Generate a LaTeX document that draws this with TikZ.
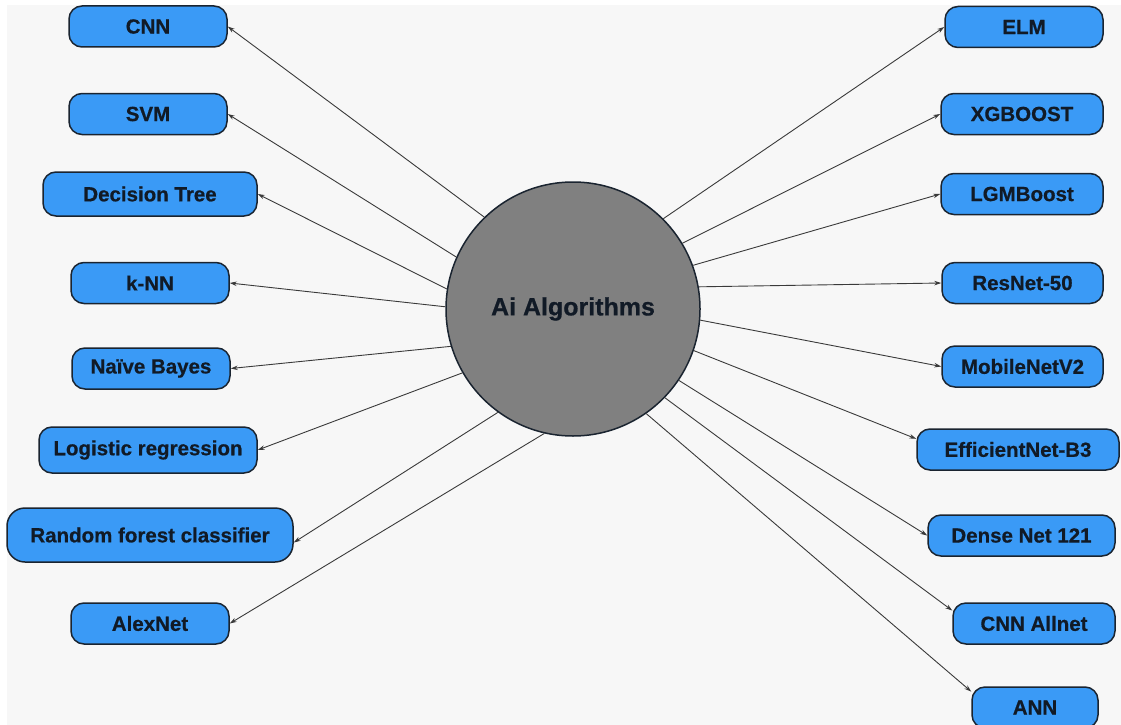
\documentclass[tikz,border=0pt]{standalone}
\usepackage{fontspec}
\setmainfont{Liberation Sans}[BoldFeatures={FakeBold=0.6}]
\usetikzlibrary{arrows.meta}
\definecolor{bg}{HTML}{F7F7F7}
\definecolor{boxblue}{HTML}{3A9AF6}
\definecolor{boxline}{HTML}{1A2430}
\definecolor{txt}{HTML}{111A26}
\definecolor{hubgray}{HTML}{808080}
\definecolor{arrcol}{HTML}{3A3A3A}
\tikzset{
  algobox/.style={draw=boxline, line width=1.5pt, fill=boxblue, rounded corners=13pt,
    minimum height=41pt, inner sep=0pt, text=txt,
    font=\fontsize{20.5}{23}\selectfont\bfseries},
  hub/.style={circle, draw=boxline, line width=1.5pt, fill=hubgray, minimum size=254pt,
    inner sep=0pt, text=txt, font=\fontsize{25}{28}\selectfont\bfseries},
  arr/.style={draw=arrcol, line width=0.9pt, -{Stealth[length=7pt,width=4.5pt]}}
}
\begin{document}
\begin{tikzpicture}[x=1pt,y=-1pt]
\useasboundingbox (0,0) rectangle (1121,725);
\fill[white] (0,0) rectangle (1121,725);
\fill[bg] (7,5) rectangle (1121,725);

\node[hub] (c) at (573,309) {\raisebox{-3pt}{Ai Algorithms}};

% left column
\node[algobox, minimum width=158pt] (cnn) at (148,26.5) {CNN};
\node[algobox, minimum width=158pt] (svm) at (148,114) {SVM};
\node[algobox, minimum width=214pt, minimum height=44pt] (dt) at (150,194) {Decision Tree};
\node[algobox, minimum width=158pt] (knn) at (150,283) {k-NN};
\node[algobox, minimum width=158pt] (nb) at (151,368.5) {Naïve Bayes};
\node[algobox, minimum width=218pt, minimum height=46pt] (lr) at (148,450) {Logistic regression};
\node[algobox, minimum width=286pt, minimum height=54pt, rounded corners=18pt] (rf) at (150,535) {Random forest classifier};
\node[algobox, minimum width=158pt] (alex) at (150,623.5) {AlexNet};

% right column
\node[algobox, minimum width=158pt] (elm) at (1024,27) {ELM};
\node[algobox, minimum width=162pt] (xgb) at (1022,114) {XGBOOST};
\node[algobox, minimum width=162pt] (lgm) at (1022,194) {LGMBoost};
\node[algobox, minimum width=161pt] (res) at (1022.5,283) {ResNet-50};
\node[algobox, minimum width=161pt] (mob) at (1022.5,366.5) {MobileNetV2};
\node[algobox, minimum width=202pt] (eff) at (1018,449.5) {EfficientNet-B3};
\node[algobox, minimum width=187pt] (dense) at (1021.5,535.5) {Dense Net 121};
\node[algobox, minimum width=162pt] (allnet) at (1034,623.5) {CNN Allnet};
\node[algobox, minimum width=126pt] (ann) at (1035,707.5) {ANN};

% connectors
\draw[arr] (c.134.7) -- (cnn.east);
\draw[arr] (c.156.2) -- (svm.east);
\draw[arr] (c.171.5) -- (dt.east);
\draw[arr] (c.179.5) -- (knn.east);
\draw[arr] (c.197) -- (nb.east);
\draw[arr] (c.210) -- (lr.east);
\draw[arr] (c.234.4) -- (rf.-3);
\draw[arr] (c.257.6) -- (alex.east);

\draw[arr] (c.45) -- (elm.west);
\draw[arr] (c.31.3) -- (xgb.west);
\draw[arr] (c.20.7) -- (lgm.west);
\draw[arr] (c.10.3) -- (res.west);
\draw[arr] (c.-5.8) -- (mob.west);
\draw[arr] (c.-19.8) -- (eff.174);
\draw[arr] (c.-34) -- (dense.west);
\draw[arr] (c.-44.7) -- (allnet.171);
\draw[arr] (c.-55.3) -- (ann.166);
\end{tikzpicture}
\end{document}
